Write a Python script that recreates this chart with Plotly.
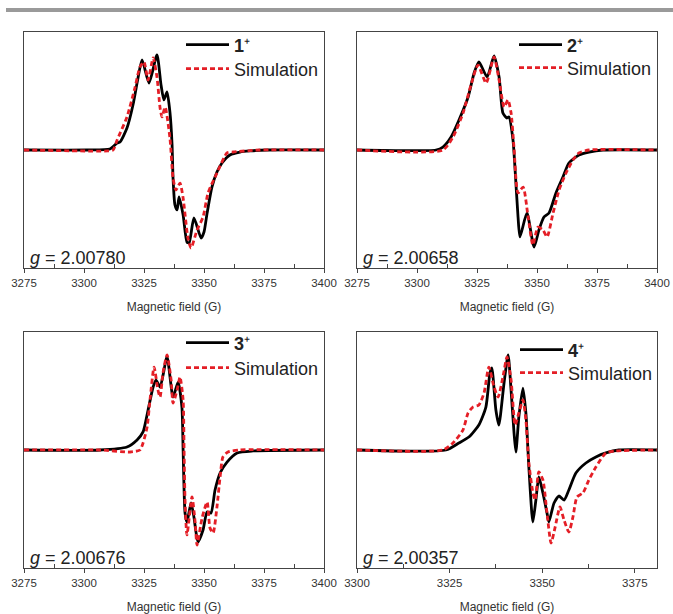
import plotly.graph_objects as go

# ---------------- data ----------------
# Panel 1 (1+)
p1_exp_x = [3275, 3301.3, 3310.8, 3313.8, 3315.0, 3317.9, 3320.4, 3322.5, 3324.2, 3327.1, 3330.4, 3332.1,
            3333.3, 3334.6, 3335.8, 3336.7, 3337.1, 3337.9, 3338.8, 3339.6, 3341.3, 3342.9, 3343.8, 3345.8,
            3348.8, 3350.0, 3351.3, 3353.3, 3355.4, 3357.5, 3360.8, 3365.0, 3369.2, 3376.3, 3400]
p1_exp_y = [0, 0, 0.008, 0.059, 0.068, 0.186, 0.381, 0.610, 0.763, 0.568, 0.805, 0.551,
            0.424, 0.492, 0.322, 0.042, -0.237, -0.466, -0.508, -0.398, -0.551, -0.780, -0.788, -0.576,
            -0.746, -0.695, -0.534, -0.314, -0.186, -0.110, -0.042, -0.017, -0.008, 0, 0]
p1_sim_x = [3275, 3310.0, 3312.1, 3313.8, 3317.9, 3321.3, 3323.3, 3325.0, 3326.7, 3328.8, 3330.4, 3331.7,
            3332.5, 3333.8, 3335.8, 3337.1, 3338.3, 3340.0, 3341.3, 3343.3, 3344.6, 3347.1, 3349.6, 3351.7,
            3355.4, 3359.6, 3362.1, 3373.3, 3400]
p1_sim_y = [0, -0.008, 0, 0.085, 0.280, 0.534, 0.703, 0.746, 0.593, 0.780, 0.619, 0.356,
            0.280, 0.364, 0.102, -0.237, -0.339, -0.280, -0.407, -0.746, -0.831, -0.678, -0.568, -0.364,
            -0.195, -0.025, -0.017, 0, 0]

# Panel 2 (2+)
p2_exp_x = [3275, 3307.9, 3310.8, 3314.2, 3317.5, 3321.3, 3323.8, 3325.8, 3329.2, 3332.1, 3334.2, 3335.8,
            3337.5, 3338.3, 3340.0, 3340.8, 3342.1, 3342.9, 3345.8, 3348.8, 3350.8, 3352.9, 3355.0, 3357.9,
            3360.8, 3363.3, 3367.5, 3371.7, 3377.5, 3400]
p2_exp_y = [0, 0, 0.025, 0.110, 0.254, 0.449, 0.653, 0.746, 0.619, 0.797, 0.619, 0.314,
            0.271, 0.280, 0.085, -0.144, -0.568, -0.737, -0.534, -0.822, -0.678, -0.568, -0.534, -0.364,
            -0.229, -0.110, -0.042, -0.017, 0, 0]
p2_sim_x = [3275, 3310.8, 3315.0, 3319.2, 3322.5, 3325.4, 3328.8, 3332.1, 3334.2, 3336.3, 3337.9, 3339.2,
            3340.4, 3342.1, 3344.2, 3346.3, 3348.3, 3350.4, 3352.5, 3354.2, 3356.7, 3359.2, 3362.1, 3365.0,
            3367.5, 3371.7, 3400]
p2_sim_y = [0, 0, 0.110, 0.314, 0.551, 0.720, 0.568, 0.788, 0.593, 0.364, 0.424, 0.314,
            0.025, -0.364, -0.314, -0.568, -0.805, -0.653, -0.678, -0.737, -0.534, -0.339, -0.195, -0.085,
            -0.025, 0, 0]

# Panel 3 (3+)
p3_exp_x = [3275, 3306.7, 3317.9, 3322.1, 3324.6, 3326.7, 3328.8, 3330.0, 3331.7, 3334.6, 3337.1, 3339.2,
            3340.8, 3341.3, 3342.1, 3342.9, 3344.6, 3345.8, 3347.5, 3349.6, 3351.3, 3352.9, 3354.6, 3356.7,
            3359.6, 3363.8, 3370.4, 3400]
p3_exp_y = [0, 0, 0.025, 0.085, 0.153, 0.339, 0.534, 0.593, 0.534, 0.788, 0.449, 0.576,
            0.364, 0, -0.534, -0.610, -0.449, -0.568, -0.780, -0.678, -0.525, -0.534, -0.339, -0.195,
            -0.102, -0.025, -0.008, 0]
p3_sim_x = [3275, 3306.7, 3319.2, 3323.3, 3324.6, 3326.3, 3327.5, 3329.2, 3330.8, 3331.7, 3332.9, 3334.6,
            3336.3, 3337.1, 3338.8, 3340.0, 3341.3, 3341.7, 3342.1, 3342.9, 3345.0, 3346.3, 3347.1, 3349.2,
            3351.3, 3352.5, 3353.8, 3355.4, 3356.7, 3357.9, 3360.0, 3365.0, 3400]
p3_sim_y = [0, 0, -0.017, 0, 0.059, 0.195, 0.424, 0.703, 0.508, 0.449, 0.653, 0.805,
            0.593, 0.398, 0.508, 0.619, 0.424, 0, -0.424, -0.720, -0.398, -0.610, -0.805, -0.576,
            -0.441, -0.661, -0.703, -0.483, -0.229, -0.059, -0.017, 0, 0]

# Panel 4 (4+)
p4_exp_x = [3300, 3324.0, 3327.5, 3330.2, 3332.9, 3334.8, 3335.9, 3336.4, 3337.5, 3338.3, 3339.7, 3340.8,
            3341.6, 3342.4, 3342.9, 3343.7, 3344.8, 3345.6, 3346.4, 3347.2, 3347.5, 3348.3, 3349.1, 3350.2,
            3351.3, 3351.8, 3353.2, 3354.5, 3355.9, 3357.2, 3359.1, 3361.8, 3364.5, 3367.2, 3370.7, 3381]
p4_exp_y = [0, 0, 0.059, 0.110, 0.212, 0.364, 0.653, 0.695, 0.339, 0.212, 0.568, 0.805,
            0.508, 0.144, -0.017, 0.280, 0.525, 0.314, -0.144, -0.534, -0.610, -0.424, -0.229, -0.364,
            -0.534, -0.610, -0.449, -0.390, -0.424, -0.339, -0.195, -0.110, -0.059, -0.025, 0, 0]
p4_sim_x = [3300, 3323.2, 3325.9, 3328.6, 3330.0, 3331.3, 3332.9, 3334.3, 3335.6, 3337.0, 3338.1, 3339.4,
            3340.5, 3341.6, 3342.7, 3343.7, 3344.8, 3345.6, 3346.4, 3347.5, 3348.1, 3349.1, 3350.2, 3351.3,
            3352.4, 3353.5, 3354.8, 3355.9, 3357.2, 3358.3, 3359.4, 3361.0, 3362.6, 3364.5, 3367.2, 3369.9, 3381]
p4_sim_y = [0, 0, 0.059, 0.169, 0.314, 0.364, 0.381, 0.483, 0.703, 0.534, 0.449, 0.619,
            0.788, 0.593, 0.212, 0.314, 0.424, 0.254, -0.110, -0.364, -0.424, -0.186, -0.254, -0.534,
            -0.788, -0.653, -0.483, -0.593, -0.695, -0.568, -0.398, -0.364, -0.254, -0.144, -0.025, -0.008, 0]

sample_names = ["<b>1</b>\u207a", "<b>2</b>\u207a", "<b>3</b>\u207a", "<b>4</b>\u207a"]
sim_name = "Simulation"
g_values = ["2.00780", "2.00658", "2.00676", "2.00357"]
x_ranges = [[3275, 3400], [3275, 3400], [3275, 3400], [3300, 3381]]
x_tickvals = [[3275, 3300, 3325, 3350, 3375, 3400]] * 3 + [[3300, 3325, 3350, 3375]]
x_title = "Magnetic field (G)"

exp_x = [p1_exp_x, p2_exp_x, p3_exp_x, p4_exp_x]
exp_y = [p1_exp_y, p2_exp_y, p3_exp_y, p4_exp_y]
sim_x = [p1_sim_x, p2_sim_x, p3_sim_x, p4_sim_x]
sim_y = [p1_sim_y, p2_sim_y, p3_sim_y, p4_sim_y]

# ---------------- layout geometry ----------------
W, H = 673, 614
FONT = "Liberation Sans, Arial, sans-serif"
RED = "rgb(228,30,38)"
FRAME = "#444444"

def fx(px):
    return px / W

def fy(py):
    return 1 - py / H

px_x = [(24, 324), (357, 657), (24, 324), (357, 657)]
px_y = [(32, 268), (32, 268), (332, 568), (332, 568)]
# (x of legend box, y of experiment row, y of simulation row)
legend_pos = [(181, 45, 69), (514, 45, 68), (181, 343, 368), (515, 350, 373)]
g_pos = [(28, 258), (361, 258), (28, 558), (361, 558)]

fig = go.Figure()
layout = dict(
    width=W, height=H, autosize=False,
    margin=dict(l=0, r=0, t=0, b=0, autoexpand=False),
    paper_bgcolor="white", plot_bgcolor="white",
    font=dict(family=FONT, color="#222222"),
    showlegend=True,
    annotations=[],
    shapes=[dict(type="rect", xref="paper", yref="paper", x0=fx(6), x1=1, y0=fy(12), y1=fy(8),
                 fillcolor="#9a9a9a", line=dict(width=0), layer="above")],
)

def legend_box(x, y):
    return dict(x=fx(x), y=fy(y), xanchor="left", yanchor="middle",
                bgcolor="rgba(0,0,0,0)", borderwidth=0, itemwidth=43,
                font=dict(size=18, color="#222222", family=FONT))

for i in range(4):
    n = "" if i == 0 else str(i + 1)
    xa, ya = "x" + n, "y" + n
    leg_a = "legend" if i == 0 else "legend" + str(2 * i + 1)
    leg_b = "legend" + str(2 * i + 2)
    fig.add_trace(go.Scatter(x=exp_x[i], y=exp_y[i], mode="lines", name=sample_names[i],
                             line=dict(color="black", width=2.8, shape="spline", smoothing=0.6),
                             xaxis=xa, yaxis=ya, legend=leg_a, hoverinfo="skip"))
    fig.add_trace(go.Scatter(x=sim_x[i], y=sim_y[i], mode="lines", name=sim_name,
                             line=dict(color=RED, width=2.8, dash="5px,3px", shape="spline", smoothing=0.6),
                             xaxis=xa, yaxis=ya, legend=leg_b, hoverinfo="skip"))
    x0, x1 = px_x[i]
    y0, y1 = px_y[i]
    layout["xaxis" + n] = dict(
        domain=[fx(x0), fx(x1)], anchor=ya, range=x_ranges[i], automargin=False,
        tickvals=x_tickvals[i], ticks="outside", ticklen=4, tickcolor=FRAME,
        minor=dict(tickvals=[v + 12.5 for v in x_tickvals[i]], ticks="inside", ticklen=4, tickcolor=FRAME),
        showline=True, linecolor=FRAME, linewidth=1, mirror=True, showgrid=False, zeroline=False,
        tickfont=dict(size=11.5, color="#333333"), ticklabeloverflow="allow",
        title=dict(text=x_title, font=dict(size=12, color="#333333"), standoff=14),
    )
    layout["yaxis" + n] = dict(
        domain=[fy(y1), fy(y0)], anchor=xa, range=[-1, 1], automargin=False,
        showline=True, linecolor=FRAME, linewidth=1, mirror=True, showgrid=False, zeroline=False,
        showticklabels=False, ticks="",
    )
    lx, ly_a, ly_b = legend_pos[i]
    layout[leg_a] = legend_box(lx, ly_a)
    layout[leg_b] = legend_box(lx, ly_b)
    gx, gy = g_pos[i]
    layout["annotations"].append(dict(
        text="<i>g</i> = " + g_values[i], xref="paper", yref="paper", x=fx(gx), y=fy(gy),
        xanchor="left", yanchor="middle", showarrow=False, font=dict(size=18, color="#222222", family=FONT)))

fig.update_layout(**layout)
fig.write_html(
    "out.html",
    config={"responsive": False, "displayModeBar": False},
    post_script="document.body.style.margin='0px';document.documentElement.style.overflow='hidden';",
)
